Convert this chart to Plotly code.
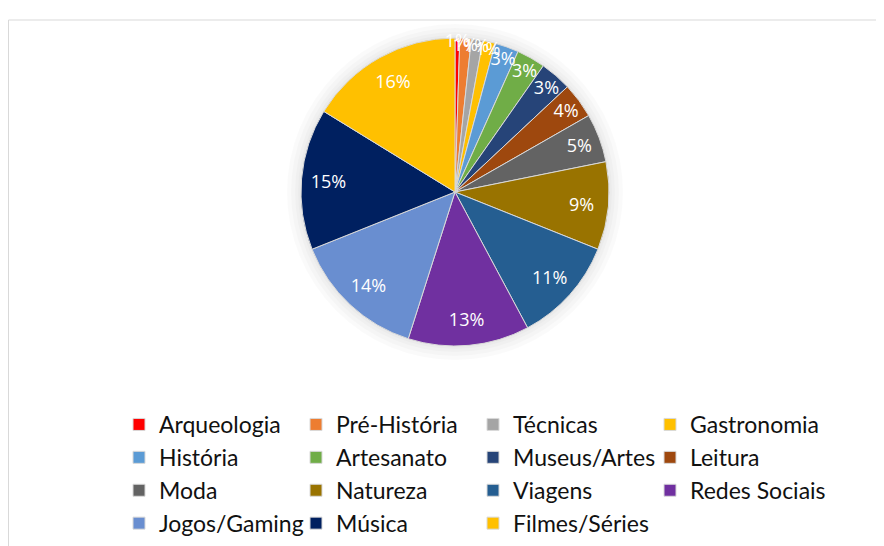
import plotly.graph_objects as go

categories = ["Arqueologia", "Pré-História", "Técnicas", "Gastronomia", "História",
              "Artesanato", "Museus/Artes", "Leitura", "Moda", "Natureza", "Viagens",
              "Redes Sociais", "Jogos/Gaming", "Música", "Filmes/Séries"]
values = [0.5, 1.2, 1.2, 1.3, 2.5, 3.0, 3.3, 3.7, 5.1, 9.2, 11.1, 12.7, 14.0, 14.8, 16.2]
colors = ["#FF0000", "#ED7D31", "#A5A5A5", "#FFC000", "#5B9BD5", "#70AD47", "#264478",
          "#9E480E", "#636363", "#997300", "#255E91", "#7030A0", "#698ED0", "#002060",
          "#FFC000"]

# page has an 8px body margin; figure sized to fill the rest of the window
W, H = 876, 538
cx, cy, R = 447, 184, 154          # pie centre / radius in figure pixels
dom = dict(x=[(cx - R) / W, (cx + R) / W], y=[1 - (cy + R) / H, 1 - (cy - R) / H])

fig = go.Figure()
fig.add_trace(go.Pie(
    labels=categories, values=values, sort=False, direction="clockwise", rotation=0,
    marker=dict(colors=colors, line=dict(color="#d9d9d9", width=1)),
    textinfo="none", domain=dom, hoverinfo="label+percent",
))
# transparent ring overlay that carries the percentage labels near the rim
fig.add_trace(go.Pie(
    labels=categories, values=values, sort=False, direction="clockwise", rotation=0,
    hole=0.65, showlegend=False, hoverinfo="skip",
    marker=dict(colors=["rgba(0,0,0,0)"] * len(values), line=dict(width=0)),
    texttemplate="%{percent:.0%}", textposition="inside", insidetextorientation="horizontal",
    textfont=dict(color="white", size=18, family="Open Sans"),
    domain=dom,
))

def circ(rad, alpha):
    return dict(type="circle", xref="paper", yref="paper", layer="below",
                x0=(cx - rad) / W, x1=(cx + rad) / W,
                y0=1 - (cy + rad) / H, y1=1 - (cy - rad) / H,
                fillcolor=f"rgba(0,0,0,{alpha})", line=dict(width=0))

shapes = [dict(type="rect", xref="paper", yref="paper", x0=0.5 / W, x1=1.05,
               y0=-0.05, y1=1 - 12 / H, line=dict(color="#d9d9d9", width=1),
               fillcolor="rgba(0,0,0,0)", layer="below")]
shapes += [circ(R + d, 0.02) for d in (14, 10, 6, 3)]

fig.update_layout(
    width=W, height=H, margin=dict(l=0, r=0, t=0, b=0),
    paper_bgcolor="white", plot_bgcolor="white",
    uniformtext=dict(minsize=18, mode="show"),
    showlegend=True,
    legend=dict(orientation="h", x=111 / W, xanchor="left", y=1 - 395 / H, yanchor="top",
                entrywidth=132, entrywidthmode="pixels",
                font=dict(family="Lato", size=23, color="#111"),
                traceorder="normal"),
    shapes=shapes,
)

fig.write_html("out.html")
